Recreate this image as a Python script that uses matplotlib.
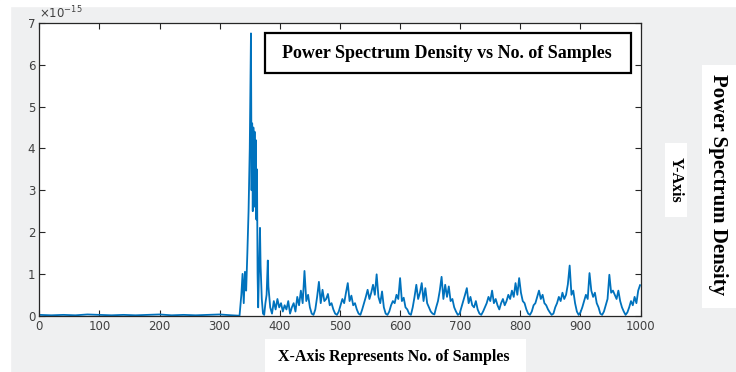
import numpy as np
import matplotlib.pyplot as plt
from matplotlib.patches import Rectangle

# samples 0..380: flat floor then the main burst (values in units of 1e-15)
burst_x = [0, 20, 40, 60, 80, 100, 120, 140, 160, 180, 200, 220, 240, 260, 280, 300, 320, 333,
           336, 338, 340, 342, 344, 346, 348, 350, 352, 353, 354, 355, 356, 357, 358, 359, 360,
           361, 362, 363, 364, 366, 367, 368, 370, 372, 374, 376, 378, 380]
burst_y = [0.02, 0.01, 0.02, 0.01, 0.03, 0.02, 0.01, 0.02, 0.01, 0.02, 0.03, 0.01, 0.02, 0.01,
           0.02, 0.03, 0.01, 0.0,
           0.5, 1.0, 0.3, 1.05, 0.6, 1.5, 2.5, 4.0, 6.75, 3.0, 4.6, 2.5, 4.5, 3.0, 4.4, 2.6, 4.2,
           2.3, 3.5, 1.0, 0.2, 1.5, 2.1, 1.2, 0.4, 0.05, 0.02, 0.3, 0.5, 1.32]

# samples 381..999 every 3rd sample: broadband noise floor
noise_x = list(range(381, 1000, 3))
noise_y = [
    0.7, 0.2, 0.05, 0.35, 0.15, 0.4, 0.2, 0.3, 0.1, 0.25,
    0.15, 0.35, 0.05, 0.2, 0.3, 0.1, 0.45, 0.25, 0.6, 0.3,
    1.07, 0.35, 0.5, 0.2, 0.05, 0.02, 0.15, 0.45, 0.81, 0.3,
    0.62, 0.35, 0.4, 0.52, 0.25, 0.3, 0.15, 0.05, 0.02, 0.1,
    0.25, 0.4, 0.3, 0.55, 0.78, 0.35, 0.48, 0.25, 0.3, 0.15,
    0.05, 0.02, 0.15, 0.3, 0.45, 0.62, 0.4, 0.55, 0.74, 0.5,
    0.99, 0.45, 0.3, 0.58, 0.2, 0.05, 0.02, 0.1, 0.25, 0.35,
    0.3, 0.5, 0.4, 0.9, 0.35, 0.43, 0.2, 0.15, 0.05, 0.02,
    0.2, 0.45, 0.74, 0.4, 0.55, 0.78, 0.35, 0.66, 0.3, 0.2,
    0.1, 0.05, 0.03, 0.2, 0.35, 0.6, 0.93, 0.4, 0.74, 0.45,
    0.7, 0.35, 0.4, 0.2, 0.1, 0.02, 0.05, 0.2, 0.35, 0.5,
    0.66, 0.3, 0.45, 0.25, 0.2, 0.35, 0.15, 0.05, 0.02, 0.1,
    0.2, 0.3, 0.45, 0.35, 0.6, 0.3, 0.4, 0.25, 0.15, 0.3,
    0.4, 0.25, 0.35, 0.5, 0.4, 0.6, 0.45, 0.78, 0.5, 0.9,
    0.55, 0.35, 0.3, 0.15, 0.05, 0.02, 0.1, 0.25, 0.3, 0.45,
    0.6, 0.4, 0.5, 0.3, 0.25, 0.15, 0.08, 0.02, 0.05, 0.2,
    0.3, 0.45, 0.35, 0.55, 0.4, 0.5, 0.75, 1.2, 0.5, 0.6,
    0.3, 0.1, 0.02, 0.08, 0.2, 0.35, 0.5, 0.4, 1.02, 0.6,
    0.45, 0.55, 0.3, 0.2, 0.05, 0.02, 0.1, 0.25, 0.4, 0.98,
    0.55, 0.6, 0.5, 0.4, 0.6, 0.35, 0.2, 0.1, 0.02, 0.08,
    0.2, 0.35, 0.25, 0.45, 0.3, 0.6, 0.73,
]

x_ticks = list(range(0, 1001, 100))
y_ticks = list(range(0, 8))
title_text = 'Power Spectrum Density vs No. of Samples'
xlabel_text = 'X-Axis Represents No. of Samples'
ylabel_short = 'Y-Axis'
ylabel_long = 'Power Spectrum Density'

samples = np.array(burst_x + noise_x)
psd = np.array(burst_y + noise_y)  # plotted in units of 1e-15

fig = plt.figure(figsize=(7.36, 3.72), dpi=100)
fig.patch.set_facecolor('#eff0f1')
# thin white margins of the scanned figure (behind the axes)
fig.patches.append(Rectangle((0, 0.985), 1, 0.015, transform=fig.transFigure, color='white', zorder=-1))
fig.patches.append(Rectangle((0, 0), 0.013, 1, transform=fig.transFigure, color='white', zorder=-1))

ax = fig.add_axes([0.0534, 0.1513, 0.817, 0.787])
ax.plot(samples, psd, color='#0072BD', linewidth=1.3)

ax.set_xlim(0, 1000)
ax.set_ylim(0, 7)
ax.set_xticks(x_ticks)
ax.set_yticks(y_ticks)
# MATLAB-style exponent label above the y axis
ax.text(0.0, 1.006, r'$\times10^{-15}$', transform=ax.transAxes, fontsize=8.5,
        color='#404040', ha='left', va='bottom')

ax.tick_params(direction='in', top=True, right=True, length=4, width=0.8,
               labelsize=8.5, colors='#262626', labelcolor='#404040', pad=3)
for sp in ax.spines.values():
    sp.set_color('#262626')
    sp.set_linewidth(0.9)

serif = ['Liberation Serif', 'DejaVu Serif']

# title box inside the axes
fig.patches.append(Rectangle((265 / 736, 1 - 73 / 372), (631 - 265) / 736, (73 - 33) / 372,
                             transform=fig.transFigure, facecolor='white', edgecolor='black',
                             linewidth=1.6, zorder=5))
fig.text(447 / 736, 1 - 53 / 372, title_text, family=serif, fontweight='bold', fontsize=13,
         ha='center', va='center', zorder=6)

# x label box
fig.patches.append(Rectangle((265 / 736, 0), (526 - 265) / 736, (372 - 339) / 372,
                             transform=fig.transFigure, facecolor='white', edgecolor='none', zorder=5))
fig.text(394 / 736, 1 - 357 / 372, xlabel_text, family=serif, fontweight='bold', fontsize=11.5,
         ha='center', va='center', zorder=6)

# short y label box
fig.patches.append(Rectangle((665 / 736, 1 - 217 / 372), (687 - 665) / 736, (217 - 143) / 372,
                             transform=fig.transFigure, facecolor='white', edgecolor='none', zorder=5))
fig.text(676 / 736, 1 - 180 / 372, ylabel_short, family=serif, fontweight='bold', fontsize=11.5,
         rotation=-90, ha='center', va='center', zorder=6)

# long y label box
fig.patches.append(Rectangle((702 / 736, 1 - 308 / 372), (736 - 702) / 736, (308 - 65) / 372,
                             transform=fig.transFigure, facecolor='white', edgecolor='none', zorder=5))
fig.text(718 / 736, 1 - 185 / 372, ylabel_long, family=serif, fontweight='bold', fontsize=15,
         rotation=-90, ha='center', va='center', zorder=6)

plt.savefig('out.png', dpi=100, facecolor=fig.get_facecolor())
